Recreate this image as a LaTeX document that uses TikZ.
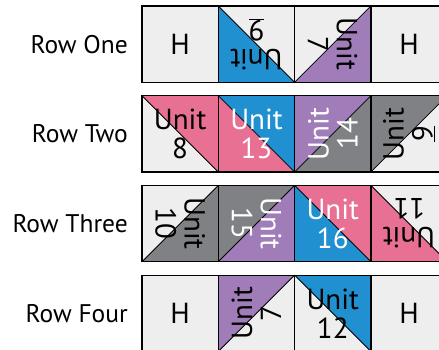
\documentclass[tikz,border=0pt]{standalone}
\usepackage{fontspec}
\setmainfont{PT Sans}
\usetikzlibrary{positioning,backgrounds}

\definecolor{patchlight}{HTML}{EEEEEE}
\definecolor{patchblue}{HTML}{2090D0}
\definecolor{patchpurple}{HTML}{A07CB9}
\definecolor{patchpink}{HTML}{E87092}
\definecolor{patchgray}{HTML}{808184}

\begin{document}
\begin{tikzpicture}[
        x=1pt, y=1pt,
        node distance=13.4pt and 0pt,
        cell/.style={
            rectangle, draw=black, line width=1.2pt,
            minimum width=76.3pt, minimum height=76.3pt,
            inner sep=0pt, outer sep=0pt
        },
        unit/.style={
            align=center, font=\fontsize{29}{29}\selectfont,
            text=black, inner sep=0pt
        },
        unitw/.style={unit, text=white},
        rowlabel/.style={font=\fontsize{25.5}{28}\selectfont, inner sep=0pt},
        diag/.style={draw=black, line width=0.8pt}
    ]
    \useasboundingbox (0,0) rectangle (439,349);
    \clip (0,0) rectangle (439,349);

    % Row One
    \node[cell] (a1) at (180.15,304.85) {};
    \node[cell, right=of a1] (a2) {};
    \node[cell, right=of a2] (a3) {};
    \node[cell, right=of a3] (a4) {};

    % Row Two
    \node[cell, below=of a1] (b1) {};
    \node[cell, right=of b1] (b2) {};
    \node[cell, right=of b2] (b3) {};
    \node[cell, right=of b3] (b4) {};

    % Row Three
    \node[cell, below=of b1] (c1) {};
    \node[cell, right=of c1] (c2) {};
    \node[cell, right=of c2] (c3) {};
    \node[cell, right=of c3] (c4) {};

    % Row Four
    \node[cell, below=of c1] (d1) {};
    \node[cell, right=of d1] (d2) {};
    \node[cell, right=of d2] (d3) {};
    \node[cell, right=of d3] (d4) {};

    % Row labels
    \node[rowlabel, left=14pt of a1] (rowa) {Row One};
    \node[rowlabel, left=14pt of b1] (rowb) {Row Two};
    \node[rowlabel, left=14pt of c1] (rowc) {Row Three};
    \node[rowlabel, left=14pt of d1] (rowd) {Row Four};

    % Unit texts
    \node[unit] (ta1) at (a1) {H};
    \node[unit, rotate=180] (ta2) at (a2) {Unit\\\underline{9}};
    \node[unit, rotate=-90] (ta3) at (a3) {Unit\\7};
    \node[unit] (ta4) at (a4) {H};

    \node[unit] (tb1) at (b1) {Unit\\8};
    \node[unitw] (tb2) at (b2) {Unit\\13};
    \node[unitw, rotate=90] (tb3) at (b3) {Unit\\14};
    \node[unit, rotate=90] (tb4) at (b4) {Unit\\\underline{9}};

    \node[unit, rotate=-90] (tc1) at (c1) {Unit\\10};
    \node[unitw, rotate=-90] (tc2) at (c2) {Unit\\15};
    \node[unitw] (tc3) at (c3) {Unit\\16};
    \node[unit, rotate=180] (tc4) at (c4) {Unit\\11};

    \node[unit] (td1) at (d1) {H};
    \node[unit, rotate=90] (td2) at (d2) {Unit\\7};
    \node[unit] (td3) at (d3) {Unit\\12};
    \node[unit] (td4) at (d4) {H};

    \begin{scope}[on background layer]
        % light base of each row
        \fill[patchlight] (a1.south west) rectangle (a4.north east);
        \fill[patchlight] (b1.south west) rectangle (b4.north east);
        \fill[patchlight] (c1.south west) rectangle (c4.north east);
        \fill[patchlight] (d1.south west) rectangle (d4.north east);

        % Row One triangles
        \fill[patchblue] (a2.north west) -- (a2.south west) -- (a2.south east) -- cycle;
        \fill[patchpurple] (a3.south west) -- (a3.south east) -- (a3.north east) -- cycle;

        % Row Two triangles
        \fill[patchpink] (b1.north west) -- (b1.north east) -- (b1.south east) -- cycle;
        \fill[patchpink] (b2.north west) -- (b2.south west) -- (b2.south east) -- cycle;
        \fill[patchblue] (b2.north west) -- (b2.north east) -- (b2.south east) -- cycle;
        \fill[patchpurple] (b3.south west) -- (b3.north west) -- (b3.north east) -- cycle;
        \fill[patchgray] (b3.south west) -- (b3.south east) -- (b3.north east) -- cycle;
        \fill[patchgray] (b4.south west) -- (b4.north west) -- (b4.north east) -- cycle;

        % Row Three triangles
        \fill[patchgray] (c1.south west) -- (c1.south east) -- (c1.north east) -- cycle;
        \fill[patchgray] (c2.south west) -- (c2.north west) -- (c2.north east) -- cycle;
        \fill[patchpurple] (c2.south west) -- (c2.south east) -- (c2.north east) -- cycle;
        \fill[patchpink] (c3.north west) -- (c3.north east) -- (c3.south east) -- cycle;
        \fill[patchblue] (c3.north west) -- (c3.south west) -- (c3.south east) -- cycle;
        \fill[patchpink] (c4.north west) -- (c4.south west) -- (c4.south east) -- cycle;

        % Row Four triangles
        \fill[patchpurple] (d2.south west) -- (d2.north west) -- (d2.north east) -- cycle;
        \fill[patchblue] (d3.north west) -- (d3.north east) -- (d3.south east) -- cycle;

        % Diagonals
        \draw[diag] (a2.north west) -- (a2.south east);
        \draw[diag] (a3.south west) -- (a3.north east);
        \draw[diag] (b1.north west) -- (b1.south east);
        \draw[diag] (b2.north west) -- (b2.south east);
        \draw[diag] (b3.south west) -- (b3.north east);
        \draw[diag] (b4.south west) -- (b4.north east);
        \draw[diag] (c1.south west) -- (c1.north east);
        \draw[diag] (c2.south west) -- (c2.north east);
        \draw[diag] (c3.north west) -- (c3.south east);
        \draw[diag] (c4.north west) -- (c4.south east);
        \draw[diag] (d2.south west) -- (d2.north east);
        \draw[diag] (d3.north west) -- (d3.south east);
    \end{scope}
\end{tikzpicture}
\end{document}
